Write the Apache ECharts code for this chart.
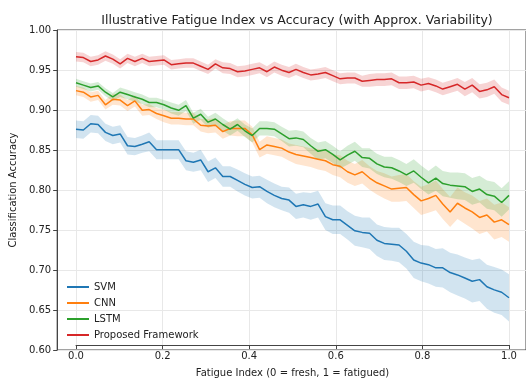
<!DOCTYPE html>
<html>
<head>
<meta charset="utf-8">
<script src="https://cdn.jsdelivr.net/npm/echarts@6/dist/echarts.min.js"></script>
<style>
  html, body { margin: 0; padding: 0; background: #fff; }
  #chart { width: 526px; height: 383px; }
</style>
</head>
<body>
<div id="chart"></div>
<script>
// fatigue index sample positions (60 points, 0 -> 1)
const fatigue = [
  0.000, 0.017, 0.034, 0.051, 0.068, 0.085, 0.102, 0.119, 0.136, 0.153,
  0.169, 0.186, 0.203, 0.220, 0.237, 0.254, 0.271, 0.288, 0.305, 0.322,
  0.339, 0.356, 0.373, 0.390, 0.407, 0.424, 0.441, 0.458, 0.475, 0.492,
  0.508, 0.525, 0.542, 0.559, 0.576, 0.593, 0.610, 0.627, 0.644, 0.661,
  0.678, 0.695, 0.712, 0.729, 0.746, 0.763, 0.780, 0.797, 0.814, 0.831,
  0.847, 0.864, 0.881, 0.898, 0.915, 0.932, 0.949, 0.966, 0.983, 1.000
];

const svm = [
  0.874, 0.873, 0.881, 0.880, 0.870, 0.866, 0.868, 0.853, 0.852, 0.855,
  0.858, 0.848, 0.848, 0.848, 0.848, 0.834, 0.832, 0.835, 0.820, 0.825,
  0.814, 0.814, 0.809, 0.804, 0.800, 0.801, 0.795, 0.790, 0.786, 0.784,
  0.776, 0.778, 0.776, 0.779, 0.763, 0.759, 0.759, 0.752, 0.745, 0.743,
  0.742, 0.733, 0.729, 0.728, 0.727, 0.719, 0.708, 0.704, 0.702, 0.698,
  0.698, 0.692, 0.689, 0.685, 0.681, 0.683, 0.674, 0.670, 0.667, 0.660
];
const cnn = [
  0.923, 0.921, 0.915, 0.917, 0.905, 0.912, 0.911, 0.904, 0.910, 0.898,
  0.899, 0.894, 0.891, 0.888, 0.888, 0.887, 0.887, 0.879, 0.878, 0.879,
  0.871, 0.875, 0.875, 0.875, 0.867, 0.848, 0.854, 0.852, 0.850, 0.845,
  0.842, 0.840, 0.838, 0.836, 0.834, 0.829, 0.827, 0.820, 0.816, 0.820,
  0.812, 0.806, 0.802, 0.798, 0.799, 0.800, 0.791, 0.783, 0.786, 0.790,
  0.779, 0.769, 0.780, 0.774, 0.769, 0.762, 0.765, 0.756, 0.759, 0.753
];
const lstm = [
  0.933, 0.930, 0.927, 0.929, 0.921, 0.915, 0.921, 0.918, 0.915, 0.912,
  0.908, 0.908, 0.905, 0.901, 0.898, 0.904, 0.888, 0.893, 0.883, 0.887,
  0.880, 0.874, 0.880, 0.872, 0.866, 0.875, 0.875, 0.874, 0.868, 0.862,
  0.863, 0.861, 0.853, 0.846, 0.848, 0.842, 0.835, 0.841, 0.846, 0.838,
  0.837, 0.830, 0.826, 0.825, 0.821, 0.816, 0.821, 0.813, 0.806, 0.812,
  0.805, 0.803, 0.802, 0.801, 0.795, 0.798, 0.791, 0.789, 0.781, 0.790
];
const proposed = [
  0.966, 0.965, 0.960, 0.962, 0.967, 0.963, 0.957, 0.964, 0.960, 0.964,
  0.960, 0.961, 0.962, 0.956, 0.957, 0.958, 0.958, 0.954, 0.950, 0.957,
  0.952, 0.951, 0.947, 0.948, 0.950, 0.952, 0.947, 0.953, 0.949, 0.946,
  0.950, 0.946, 0.943, 0.944, 0.946, 0.942, 0.938, 0.939, 0.939, 0.935,
  0.936, 0.937, 0.937, 0.938, 0.933, 0.933, 0.934, 0.930, 0.932, 0.929,
  0.925, 0.928, 0.931, 0.925, 0.930, 0.922, 0.924, 0.928, 0.918, 0.914
];

// half-width of the shaded variability band
const svmSpread = [
  0.011, 0.011, 0.011, 0.011, 0.011, 0.011, 0.011, 0.011, 0.011, 0.011,
  0.012, 0.012, 0.012, 0.012, 0.012, 0.012, 0.012, 0.013, 0.013, 0.013,
  0.013, 0.013, 0.014, 0.014, 0.014, 0.014, 0.015, 0.015, 0.015, 0.016,
  0.016, 0.016, 0.017, 0.017, 0.017, 0.018, 0.018, 0.018, 0.019, 0.019,
  0.020, 0.020, 0.021, 0.021, 0.022, 0.022, 0.023, 0.023, 0.024, 0.024,
  0.025, 0.025, 0.026, 0.026, 0.027, 0.027, 0.028, 0.029, 0.029, 0.030
];
const cnnSpread = [
  0.006, 0.006, 0.006, 0.006, 0.006, 0.007, 0.007, 0.007, 0.007, 0.007,
  0.007, 0.007, 0.008, 0.008, 0.008, 0.008, 0.008, 0.008, 0.009, 0.009,
  0.009, 0.009, 0.010, 0.010, 0.010, 0.010, 0.011, 0.011, 0.011, 0.011,
  0.012, 0.012, 0.012, 0.013, 0.013, 0.013, 0.014, 0.014, 0.014, 0.015,
  0.015, 0.015, 0.016, 0.016, 0.017, 0.017, 0.017, 0.018, 0.018, 0.019,
  0.019, 0.019, 0.020, 0.020, 0.021, 0.021, 0.021, 0.022, 0.022, 0.022
];
const lstmSpread = [
  0.005, 0.005, 0.005, 0.005, 0.005, 0.005, 0.006, 0.006, 0.006, 0.006,
  0.006, 0.006, 0.006, 0.007, 0.007, 0.007, 0.007, 0.007, 0.007, 0.008,
  0.008, 0.008, 0.008, 0.008, 0.009, 0.009, 0.009, 0.009, 0.009, 0.010,
  0.010, 0.010, 0.010, 0.011, 0.011, 0.011, 0.011, 0.012, 0.012, 0.012,
  0.013, 0.013, 0.013, 0.014, 0.014, 0.014, 0.015, 0.015, 0.015, 0.016,
  0.016, 0.016, 0.017, 0.017, 0.017, 0.017, 0.018, 0.018, 0.018, 0.018
];
const proposedSpread = [
  0.006, 0.006, 0.006, 0.006, 0.006, 0.006, 0.006, 0.006, 0.006, 0.006,
  0.006, 0.006, 0.006, 0.006, 0.006, 0.006, 0.006, 0.006, 0.006, 0.006,
  0.007, 0.007, 0.007, 0.007, 0.007, 0.007, 0.007, 0.007, 0.007, 0.007,
  0.007, 0.007, 0.007, 0.007, 0.007, 0.007, 0.007, 0.007, 0.007, 0.007,
  0.008, 0.008, 0.008, 0.008, 0.008, 0.008, 0.008, 0.008, 0.008, 0.008,
  0.008, 0.008, 0.008, 0.009, 0.009, 0.009, 0.009, 0.009, 0.009, 0.009
];

const xTicks = [0, 0.2, 0.4, 0.6, 0.8, 1.0];

const models = [
  { name: 'SVM', values: svm, spread: svmSpread, color: '#1f77b4' },
  { name: 'CNN', values: cnn, spread: cnnSpread, color: '#ff7f0e' },
  { name: 'LSTM', values: lstm, spread: lstmSpread, color: '#2ca02c' },
  { name: 'Proposed Framework', values: proposed, spread: proposedSpread, color: '#d62728' },
];

const FONT = 'DejaVu Sans';
const GRID_COLOR = '#e8e8e8';
const SPINE = '#444';

function hexAlpha(hex, a) {
  const n = parseInt(hex.slice(1), 16);
  return `rgba(${(n >> 16) & 255}, ${(n >> 8) & 255}, ${n & 255}, ${a})`;
}

const series = [];

// variability bands: one polygon per model, drawn through the axis scale
models.forEach(m => {
  const rows = fatigue.map((x, i) => [x, m.values[i] - m.spread[i], m.values[i] + m.spread[i]]);
  series.push({
    name: m.name + ' band',
    type: 'custom',
    xAxisIndex: 1,
    yAxisIndex: 1,
    silent: true,
    encode: { x: 0, y: [1, 2] },
    data: rows,
    renderItem: (params, api) => {
      if (params.dataIndex !== 0) return null;
      const top = rows.map(r => api.coord([r[0], r[2]]));
      const bottom = rows.map(r => api.coord([r[0], r[1]])).reverse();
      return {
        type: 'polygon',
        shape: { points: top.concat(bottom) },
        style: { fill: hexAlpha(m.color, 0.2) },
      };
    },
  });
});

models.forEach(m => {
  series.push({
    name: m.name,
    type: 'line',
    xAxisIndex: 1,
    yAxisIndex: 1,
    symbol: 'none',
    color: m.color,
    lineStyle: { color: m.color, width: 1.5 },
    data: fatigue.map((x, i) => [x, m.values[i]]),
  });
});

const chart = echarts.init(document.getElementById('chart'), null, { renderer: 'canvas' });

chart.setOption({
  animation: false,
  backgroundColor: '#fff',
  title: {
    text: 'Illustrative Fatigue Index vs Accuracy (with Approx. Variability)',
    left: 292,
    textAlign: 'center',
    top: 9,
    textStyle: { fontFamily: FONT, fontSize: 12.5, fontWeight: 'normal', color: '#222' },
  },
  legend: {
    data: models.map(m => m.name),
    orient: 'vertical',
    left: 62,
    top: 276,
    icon: 'rect',
    itemWidth: 22,
    itemHeight: 2,
    itemGap: 4,
    textStyle: { fontFamily: FONT, fontSize: 10, color: '#222', lineHeight: 12 },
  },
  grid: [
    // outer frame (matplotlib axes box, incl. 5% margins)
    { left: 54, top: 30, width: 477, height: 320, show: true, borderColor: SPINE, borderWidth: 1, backgroundColor: 'transparent' },
    // data area spanning x = 0..1
    { left: 76, top: 30, width: 433, height: 320 },
  ],
  xAxis: [
    { gridIndex: 0, type: 'value', min: -0.05, max: 1.05, show: false },
    {
      gridIndex: 1,
      type: 'value',
      min: 0,
      max: 1,
      interval: 0.2,
      name: 'Fatigue Index (0 = fresh, 1 = fatigued)',
      nameLocation: 'middle',
      nameGap: 23,
      nameTextStyle: { fontFamily: FONT, fontSize: 10, color: '#222' },
      axisLine: { show: true, onZero: false, lineStyle: { color: SPINE, width: 1 } },
      axisTick: { show: true, length: 4, lineStyle: { color: SPINE } },
      axisLabel: {
        fontFamily: FONT, fontSize: 10, color: '#222', margin: 6,
        formatter: v => xTicks.some(t => Math.abs(t - v) < 1e-9) ? v.toFixed(1) : '',
      },
      splitLine: { show: true, lineStyle: { color: GRID_COLOR, width: 1 } },
    },
  ],
  yAxis: [
    {
      gridIndex: 0,
      type: 'value',
      min: 0.6,
      max: 1.0,
      interval: 0.05,
      name: 'Classification Accuracy',
      nameLocation: 'middle',
      nameGap: 39,
      nameTextStyle: { fontFamily: FONT, fontSize: 10, color: '#222' },
      axisLine: { show: true, onZero: false, lineStyle: { color: SPINE, width: 1 } },
      axisTick: { show: true, length: 4, lineStyle: { color: SPINE } },
      axisLabel: { fontFamily: FONT, fontSize: 10, color: '#222', margin: 6, formatter: v => v.toFixed(2) },
      splitLine: { show: true, lineStyle: { color: GRID_COLOR, width: 1 } },
    },
    { gridIndex: 1, type: 'value', min: 0.6, max: 1.0, show: false },
  ],
  series: series,
});
</script>
</body>
</html>
